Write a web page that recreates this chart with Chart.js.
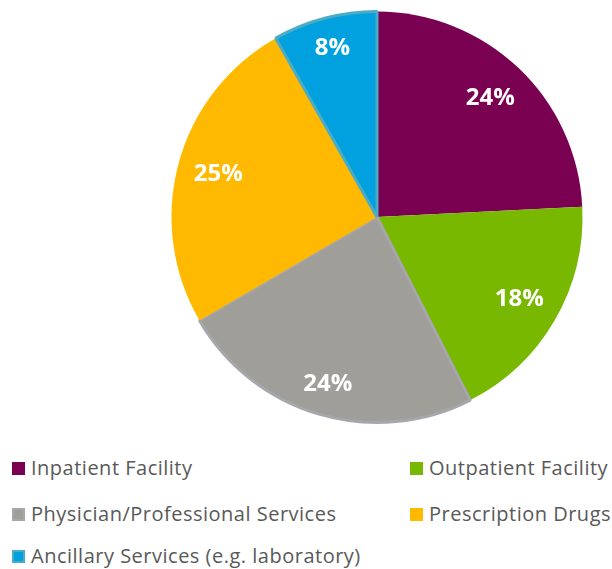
<!DOCTYPE html>
<html>
<head>
<meta charset="utf-8">
<script src="https://cdn.jsdelivr.net/npm/chart.js@4/dist/chart.umd.min.js"></script>
<style>
  body { margin: 0; background: #fff; }
  #wrap { position: relative; width: 612px; height: 569px; }
  #pie { position: absolute; left: 0; top: 0; }
  .leg { position: absolute; font-family: "Open Sans", sans-serif; font-size: 20px; letter-spacing: 0.5px; color: #595959; white-space: nowrap; line-height: 20px; }
  .leg span { display: inline-block; width: 13px; height: 13px; margin-right: 6px; vertical-align: 0px; box-sizing: border-box; }
</style>
</head>
<body>
<div id="wrap">
  <canvas id="pie" width="612" height="440"></canvas>
  <div id="legend"></div>
</div>
<script>
// categories and values (share of total, %)
const categories = ['Inpatient Facility', 'Outpatient Facility', 'Physician/Professional Services', 'Prescription Drugs', 'Ancillary Services (e.g. laboratory)'];
const shares = [24.2, 18.3, 24.1, 25.2, 8.2];
const shareLabels = ['24%', '18%', '24%', '25%', '8%'];
const colors = ['#7a0052', '#78b800', '#a09e98', '#ffb900', '#00a1de'];
const borders = ['#7a0052', '#78b800', '#a6a6ad', '#ffb900', '#4bacc6'];

// positions of the legend entries (column x, row y)
const legendPos = [[12, 458], [410, 458], [12, 504], [410, 504], [12, 546]];
// how far out each label sits (fraction of radius)
const labelRadius = [0.8, 0.8, 0.85, 0.8, 0.85];

const legend = document.getElementById('legend');
categories.forEach((c, i) => {
    const d = document.createElement('div');
    d.className = 'leg';
    d.style.left = legendPos[i][0] + 'px';
    d.style.top = legendPos[i][1] + 'px';
    const sw = document.createElement('span');
    sw.style.background = colors[i];
    if (i === 2 || i === 4) sw.style.border = '2px solid ' + borders[i];
    d.appendChild(sw);
    d.appendChild(document.createTextNode(categories[i]));
    legend.appendChild(d);
});

// white percentage labels inside the slices
const sliceLabels = {
    id: 'sliceLabels',
    afterDatasetsDraw(chart) {
        const ctx = chart.ctx;
        const meta = chart.getDatasetMeta(0);
        ctx.save();
        ctx.fillStyle = '#ffffff';
        ctx.font = 'bold 24px "Open Sans", sans-serif';
        ctx.textAlign = 'center';
        ctx.textBaseline = 'middle';
        meta.data.forEach((arc, i) => {
            const p = arc.getProps(['x', 'y', 'startAngle', 'endAngle', 'outerRadius'], true);
            const mid = (p.startAngle + p.endAngle) / 2;
            const r = p.outerRadius * labelRadius[i];
            ctx.fillText(shareLabels[i], p.x + Math.cos(mid) * r, p.y + Math.sin(mid) * r);
        });
        ctx.restore();
    }
};

const ctx = document.getElementById('pie').getContext('2d');
new Chart(ctx, {
    type: 'pie',
    data: {
        labels: categories,
        datasets: [{
            data: shares,
            backgroundColor: colors,
            borderColor: borders,
            borderWidth: [0, 0, 3, 0, 3]
        }]
    },
    options: {
        responsive: false,
        animation: false,
        layout: { padding: { left: 170, right: 28, top: 10, bottom: 16 } },
        plugins: {
            legend: { display: false },
            tooltip: { enabled: false }
        }
    },
    plugins: [sliceLabels]
});
</script>
</body>
</html>
